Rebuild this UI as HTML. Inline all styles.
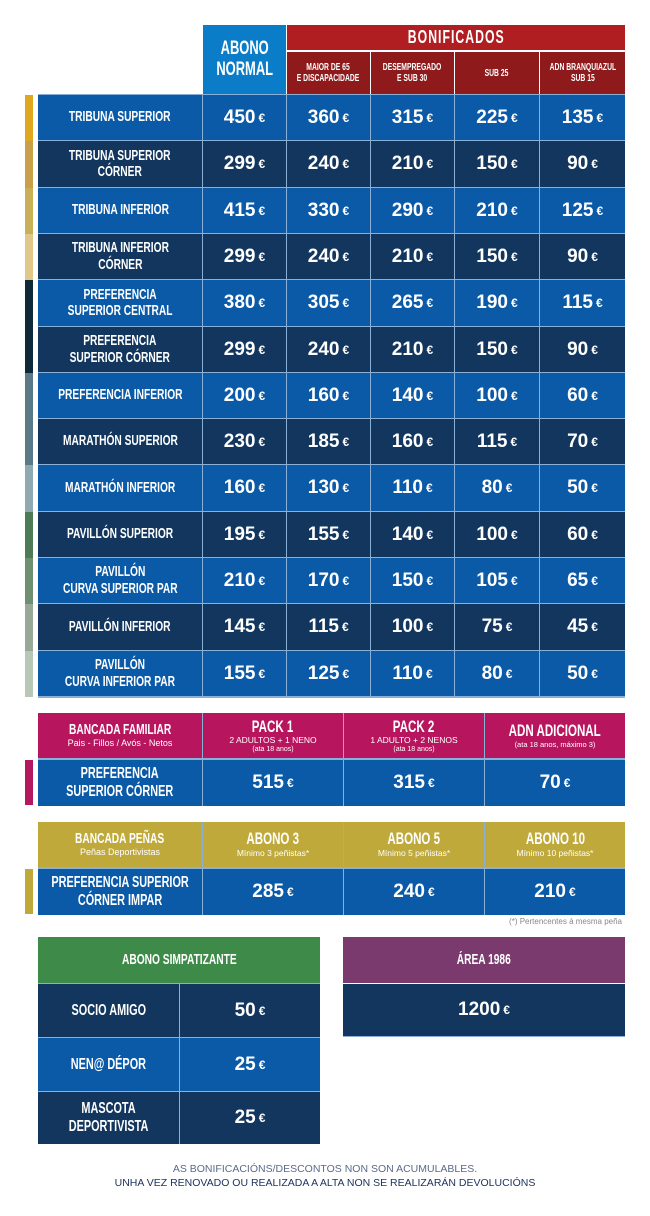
<!DOCTYPE html>
<html><head><meta charset="utf-8"><style>
*{margin:0;padding:0;box-sizing:border-box}
body{width:650px;height:1216px;background:#fff;position:relative;font-family:"Liberation Sans",sans-serif;overflow:hidden}
.a{position:absolute;display:flex;align-items:center;justify-content:center;text-align:center;color:#fff}
.c{font-family:"Liberation Sans",sans-serif;font-weight:bold;line-height:1.1}
.w{display:inline-block;transform:scaleX(.68);white-space:nowrap}
.p{font-family:"Liberation Sans",sans-serif;font-weight:bold;font-size:19px}
.p small{font-size:12px;margin-left:3px}
.b{background:#0a5aa8}.n{background:#12365e}
.s{line-height:1.1}
</style></head><body>
<div class="a c" style="left:203px;top:25px;width:83px;height:69px;background:#0a7cc8;font-size:19px">ABONO<br>NORMAL</div>
<div class="a c" style="left:287px;top:25px;width:338px;height:25px;background:#b01e22;font-size:18px;letter-spacing:1.5px">BONIFICADOS</div>
<div class="a c" style="left:287px;top:52px;width:83px;height:42px;background:#8e1a1c;font-size:10px">MAIOR DE 65<br>E DISCAPACIDADE</div>
<div class="a c" style="left:371px;top:52px;width:83px;height:42px;background:#8e1a1c;font-size:10px">DESEMPREGADO<br>E SUB 30</div>
<div class="a c" style="left:455px;top:52px;width:84px;height:42px;background:#8e1a1c;font-size:10px">SUB 25</div>
<div class="a c" style="left:540px;top:52px;width:85px;height:42px;background:#8e1a1c;font-size:10px">ADN BRANQUIAZUL<br>SUB 15</div>
<div id="rows"></div>
<script>
var R=[["TRIBUNA SUPERIOR",450,360,315,225,135,"#e0a820"],["TRIBUNA SUPERIOR<br>CÓRNER",299,240,210,150,90,"#c8a048"],["TRIBUNA INFERIOR",415,330,290,210,125,"#c8b058"],["TRIBUNA INFERIOR<br>CÓRNER",299,240,210,150,90,"#e0c888"],["PREFERENCIA<br>SUPERIOR CENTRAL",380,305,265,190,115,"#0e2a38"],["PREFERENCIA<br>SUPERIOR CÓRNER",299,240,210,150,90,"#0e2a38"],["PREFERENCIA INFERIOR",200,160,140,100,60,"#5a7a88"],["MARATHÓN SUPERIOR",230,185,160,115,70,"#5a7a88"],["MARATHÓN INFERIOR",160,130,110,80,50,"#90a8b0"],["PAVILLÓN SUPERIOR",195,155,140,100,60,"#4f7a58"],["PAVILLÓN<br>CURVA SUPERIOR PAR",210,170,150,105,65,"#6f9070"],["PAVILLÓN INFERIOR",145,115,100,75,45,"#98a898"],["PAVILLÓN<br>CURVA INFERIOR PAR",155,125,110,80,50,"#b8c8b8"]];
var X=[[38,164],[203,83],[287,83],[371,83],[455,84],[540,85]];
var h="";
R.forEach(function(r,i){var y=95+Math.round(i*46.3),hh=Math.round((i+1)*46.3)-Math.round(i*46.3)-1;var cl=i%2?"n":"b";
h+='<div style="position:absolute;left:25px;top:'+y+'px;width:8px;height:'+(hh+1)+'px;background:'+r[6]+'"></div>';
h+='<div class="a c '+cl+'" style="left:38px;top:'+y+'px;width:164px;height:'+hh+'px;font-size:15px">'+r[0]+'</div>';
for(var j=1;j<6;j++)h+='<div class="a p '+cl+'" style="left:'+X[j][0]+'px;top:'+y+'px;width:'+X[j][1]+'px;height:'+hh+'px">'+r[j]+'<small>€</small></div>';});
h+='<div style="position:absolute;left:38px;top:94px;width:587px;height:604px;background:#8ab0d8;z-index:-1"></div>';
document.getElementById("rows").innerHTML=h;
</script>
<!-- familiar -->
<div style="position:absolute;left:38px;top:713px;width:587px;height:93px;background:#8ab0d8;z-index:-1"></div>
<div class="a s" style="left:38px;top:713px;width:164px;height:45px;background:#b8155f;flex-direction:column"><span class="c" style="font-size:15px">BANCADA FAMILIAR</span><span style="font-size:9px">Pais - Fillos / Avós - Netos</span></div>
<div class="a s" style="left:203px;top:713px;width:140px;height:45px;background:#b8155f;flex-direction:column"><span class="c" style="font-size:17px">PACK 1</span><span style="font-size:8.5px">2 ADULTOS + 1 NENO</span><span style="font-size:7px">(ata 18 anos)</span></div>
<div class="a s" style="left:344px;top:713px;width:140px;height:45px;background:#b8155f;flex-direction:column"><span class="c" style="font-size:17px">PACK 2</span><span style="font-size:8.5px">1 ADULTO + 2 NENOS</span><span style="font-size:7px">(ata 18 anos)</span></div>
<div class="a s" style="left:485px;top:713px;width:140px;height:45px;background:#b8155f;flex-direction:column"><span class="c" style="font-size:17px">ADN ADICIONAL</span><span style="font-size:7.5px">(ata 18 anos, máximo 3)</span></div>
<div style="position:absolute;left:25px;top:760px;width:8px;height:45px;background:#b4185e"></div>
<div class="a c b" style="left:38px;top:760px;width:164px;height:46px;font-size:16px">PREFERENCIA<br>SUPERIOR CÓRNER</div>
<div class="a p b" style="left:203px;top:760px;width:140px;height:46px">515<small>€</small></div>
<div class="a p b" style="left:344px;top:760px;width:140px;height:46px">315<small>€</small></div>
<div class="a p b" style="left:485px;top:760px;width:140px;height:46px">70<small>€</small></div>
<!-- peñas -->
<div style="position:absolute;left:38px;top:822px;width:587px;height:93px;background:#8ab0d8;z-index:-1"></div>
<div class="a s" style="left:38px;top:822px;width:164px;height:45px;background:#bfa93a;flex-direction:column"><span class="c" style="font-size:15px">BANCADA PEÑAS</span><span style="font-size:9px">Peñas Deportivistas</span></div>
<div class="a s" style="left:203px;top:822px;width:140px;height:45px;background:#bfa93a;flex-direction:column"><span class="c" style="font-size:17px">ABONO 3</span><span style="font-size:8.5px">Mínimo 3 peñistas*</span></div>
<div class="a s" style="left:344px;top:822px;width:140px;height:45px;background:#bfa93a;flex-direction:column"><span class="c" style="font-size:17px">ABONO 5</span><span style="font-size:8.5px">Mínimo 5 peñistas*</span></div>
<div class="a s" style="left:485px;top:822px;width:140px;height:45px;background:#bfa93a;flex-direction:column"><span class="c" style="font-size:17px">ABONO 10</span><span style="font-size:8.5px">Mínimo 10 peñistas*</span></div>
<div style="position:absolute;left:25px;top:869px;width:8px;height:45px;background:#bfa93a"></div>
<div class="a c b" style="left:38px;top:869px;width:164px;height:46px;font-size:16px">PREFERENCIA SUPERIOR<br>CÓRNER IMPAR</div>
<div class="a p b" style="left:203px;top:869px;width:140px;height:46px">285<small>€</small></div>
<div class="a p b" style="left:344px;top:869px;width:140px;height:46px">240<small>€</small></div>
<div class="a p b" style="left:485px;top:869px;width:140px;height:46px">210<small>€</small></div>
<div style="position:absolute;right:28px;top:917px;font-size:8px;color:#888">(*) Pertencentes á mesma peña</div>
<!-- simpatizante -->
<div style="position:absolute;left:38px;top:937px;width:282px;height:207px;background:#8ab0d8;z-index:-1"></div>
<div class="a c" style="left:38px;top:937px;width:282px;height:46px;background:#3e8a48;font-size:15px">ABONO SIMPATIZANTE</div>
<div class="a c n" style="left:38px;top:984px;width:141px;height:53px;font-size:16px">SOCIO AMIGO</div>
<div class="a p n" style="left:180px;top:984px;width:140px;height:53px">50<small>€</small></div>
<div class="a c b" style="left:38px;top:1038px;width:141px;height:53px;font-size:16px">NEN@ DÉPOR</div>
<div class="a p b" style="left:180px;top:1038px;width:140px;height:53px">25<small>€</small></div>
<div class="a c n" style="left:38px;top:1092px;width:141px;height:52px;font-size:16px">MASCOTA<br>DEPORTIVISTA</div>
<div class="a p n" style="left:180px;top:1092px;width:140px;height:52px">25<small>€</small></div>
<div class="a c" style="left:343px;top:937px;width:282px;height:46px;background:#7a3a6e;font-size:15px">ÁREA 1986</div>
<div class="a p n" style="left:343px;top:984px;width:282px;height:53px;border-bottom:1px solid #8ab0d8">1200<small>€</small></div>
<div style="position:absolute;left:0;width:650px;top:1162px;text-align:center;font-size:10.5px;color:#5a6a8a;line-height:14px">AS BONIFICACIÓNS/DESCONTOS NON SON ACUMULABLES.<br><span style="color:#1e3460">UNHA VEZ RENOVADO OU REALIZADA A ALTA NON SE REALIZARÁN DEVOLUCIÓNS</span></div>
<script>
document.querySelectorAll('.c').forEach(function(e){e.innerHTML='<span class="w">'+e.innerHTML+'</span>';});
</script>
</body></html>
